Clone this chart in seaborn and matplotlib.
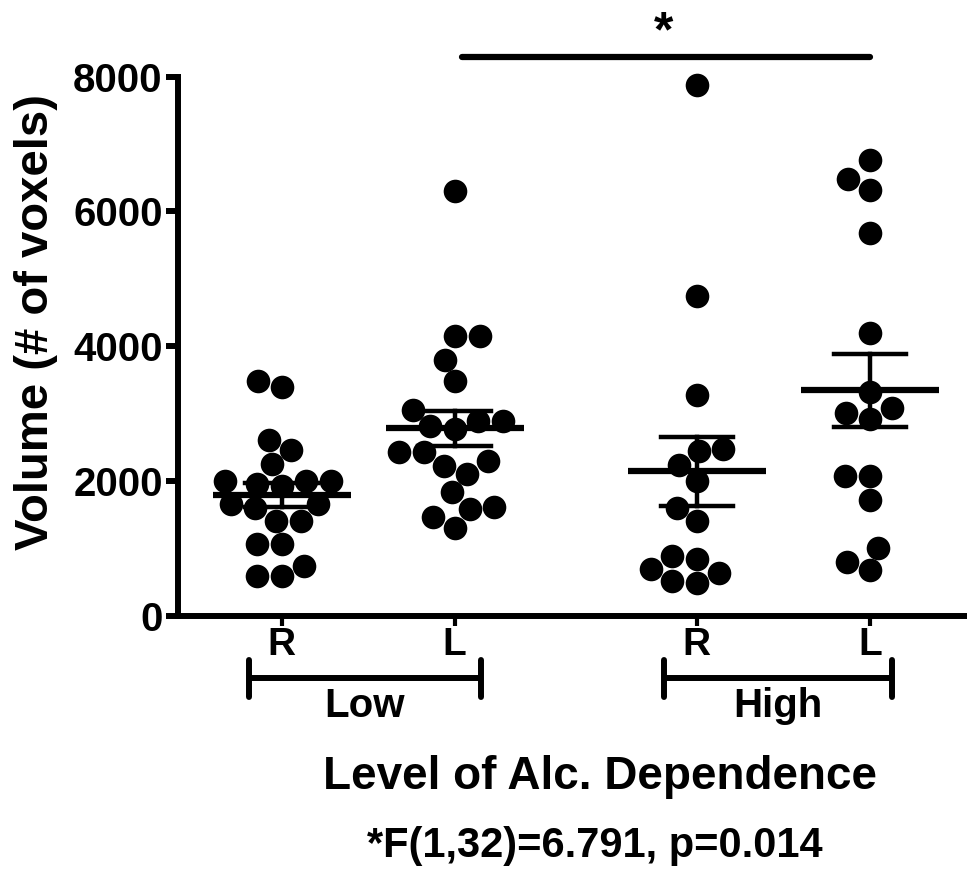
import numpy as np
import pandas as pd
import matplotlib.pyplot as plt
import seaborn as sns

# volumes (# of voxels)
low_r = [3400, 3490, 2610, 2460, 2250, 2000, 2000, 2000, 1930, 1950,
         1660, 1660, 1600, 1410, 1400, 1060, 1060, 740, 590, 590]
low_l = [6300, 4150, 4150, 3800, 3480, 3060, 2890, 2770, 2810, 2890,
         2430, 2300, 2430, 2220, 2110, 1830, 1620, 1580, 1470, 1300]
high_r = [7880, 4750, 3280, 2450, 2480, 2240, 2000, 1600, 1400, 850,
          640, 700, 890, 490, 520]
high_l = [6770, 6480, 6320, 5680, 4200, 3320, 3090, 2920, 3010, 2080,
          2080, 1720, 1010, 680, 800]

sides = ['R', 'L', 'R', 'L']
levels = ['Low', 'High']
x_pos = [0.0, 1.0, 2.4, 3.4]
series = [low_r, low_l, high_r, high_l]

df = pd.concat([pd.DataFrame({'pos': p, 'volume': v})
                for p, v in zip(x_pos, series)], ignore_index=True)

plt.rcParams['font.family'] = ['Liberation Sans', 'DejaVu Sans']
plt.rcParams['font.weight'] = 'bold'

fig = plt.figure(figsize=(9.67, 8.71), dpi=100)
ax = fig.add_axes([0.184, 0.293, 0.814, 0.619])

sns.swarmplot(data=df, x='pos', y='volume', native_scale=True, color='black',
              size=17, linewidth=0, ax=ax, warn_thresh=1)
sns.pointplot(data=df, x='pos', y='volume', native_scale=True, errorbar='se',
              color='black', linestyle='none', marker='_', markersize=100,
              markeredgewidth=4.5, capsize=0.42, err_kws={'linewidth': 3.2},
              ax=ax)
for c in ax.collections:
    c.set_clip_on(False)
for l in ax.lines:
    l.set_clip_on(False)

ax.set_xlim(-0.6, 3.95)
ax.set_ylim(0, 8000)
ax.set_yticks([0, 2000, 4000, 6000, 8000])
ax.set_xticks(x_pos)
ax.set_xticklabels(sides, fontsize=28, fontweight='bold')
ax.tick_params(axis='y', labelsize=29, width=4.3, length=9, pad=2)
ax.tick_params(axis='x', width=3, length=7, pad=1)
for t in ax.get_yticklabels():
    t.set_fontweight('bold')
sns.despine(ax=ax)
ax.spines['left'].set_linewidth(4.3)
ax.spines['bottom'].set_linewidth(4.3)
ax.set_xlabel('')
ax.set_ylabel('Volume (# of voxels)', fontsize=34, fontweight='bold')
ax.yaxis.set_label_coords(-0.152, 0.545)

# group brackets under the axis
tr = ax.get_xaxis_transform()
brackets = [(-0.19, 1.15), (2.21, 3.53)]
for (a, b), name in zip(brackets, levels):
    ax.plot([a, b], [-0.115, -0.115], color='black', lw=4.3, transform=tr,
            clip_on=False, solid_capstyle='butt')
    for e in (a, b):
        ax.plot([e, e], [-0.082, -0.150], color='black', lw=4.3, transform=tr,
                clip_on=False, solid_capstyle='round')
    ax.text((a + b) / 2, -0.167, name, transform=tr, ha='center', va='center',
            fontsize=29, fontweight='bold')

# significance bar
ax.plot([1.04, 3.40], [1.037, 1.037], color='black', lw=4.5, transform=tr,
        clip_on=False, solid_capstyle='round')
ax.text(2.21, 1.08, '*', transform=tr, ha='center', va='center',
        fontsize=36, fontweight='bold')

fig.text(0.62, 0.108, 'Level of Alc. Dependence', ha='center', va='center',
         fontsize=33, fontweight='bold')
fig.text(0.615, 0.029, '*F(1,32)=6.791, p=0.014', ha='center', va='center',
         fontsize=30, fontweight='bold')

fig.savefig('out.png', dpi=100)
